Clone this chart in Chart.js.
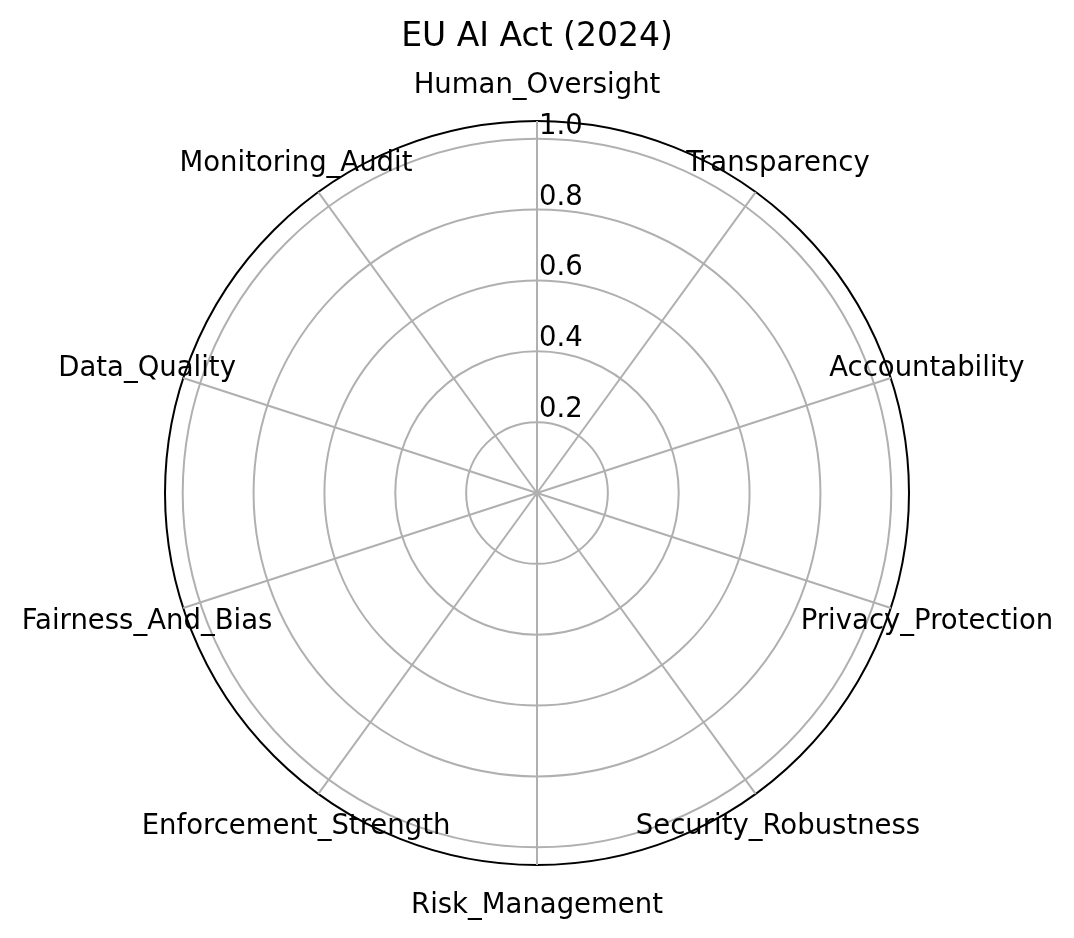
<!DOCTYPE html>
<html>
<head>
<meta charset="utf-8">
<script src="https://cdn.jsdelivr.net/npm/chart.js@4.4.1/dist/chart.umd.min.js"></script>
<style>
  html, body { margin: 0; padding: 0; background: #fff; }
  canvas { display: block; }
</style>
</head>
<body>
<canvas id="radarChart" width="1074" height="938"></canvas>
<script>
const chartTitle = "EU AI Act (2024)";
const categories = [
  "Human_Oversight", "Transparency", "Accountability", "Privacy_Protection",
  "Security_Robustness", "Risk_Management", "Enforcement_Strength",
  "Fairness_And_Bias", "Data_Quality", "Monitoring_Audit"
];
const tickValues = [0, 0.2, 0.4, 0.6, 0.8, 1.0, 1.05];
const tickLabels = ["", "0.2", "0.4", "0.6", "0.8", "1.0", ""];
const axisMax = 1.05;

const FONT = "'DejaVu Sans', sans-serif";

// matplotlib-style labels: centred category names, radial labels right of the 0° spoke
const polarLabels = {
  id: "polarLabels",
  afterDraw(chart) {
    const scale = chart.scales.r;
    const ctx = chart.ctx;
    ctx.save();
    ctx.fillStyle = "#000";
    ctx.font = "27.5px " + FONT;

    ctx.textAlign = "center";
    ctx.textBaseline = "middle";
    categories.forEach((name, i) => {
      const p = scale.getPointPosition(i, scale.drawingArea + 38);
      ctx.fillText(name, p.x, p.y + 2.5);
    });

    ctx.textAlign = "left";
    ctx.textBaseline = "alphabetic";
    tickValues.forEach((v, i) => {
      if (!tickLabels[i]) return;
      const p = scale.getPointPositionForValue(0, v);
      ctx.fillText(tickLabels[i], p.x + 2, p.y - 5);
    });
    ctx.restore();
  }
};

const ctx = document.getElementById("radarChart").getContext("2d");
new Chart(ctx, {
  type: "radar",
  data: {
    labels: categories,
    datasets: []
  },
  options: {
    responsive: false,
    animation: false,
    layout: { padding: { left: 165, right: 165, top: 0, bottom: 73 } },
    plugins: {
      legend: { display: false },
      tooltip: { enabled: false },
      title: {
        display: true,
        text: chartTitle,
        color: "#000",
        font: { family: FONT, size: 33, weight: "normal", lineHeight: 1.2 },
        padding: { top: 18, bottom: 63.4 }
      }
    },
    scales: {
      r: {
        min: 0,
        max: axisMax,
        afterBuildTicks: (scale) => {
          scale.ticks = tickValues.map((v) => ({ value: v }));
        },
        ticks: { display: false },
        pointLabels: { display: false },
        angleLines: { display: true, color: "#b0b0b0", lineWidth: 2 },
        grid: {
          circular: true,
          lineWidth: 2,
          color: (c) => (c.tick && c.tick.value === axisMax ? "#000" : "#b0b0b0")
        }
      }
    }
  },
  plugins: [polarLabels]
});
</script>
</body>
</html>
